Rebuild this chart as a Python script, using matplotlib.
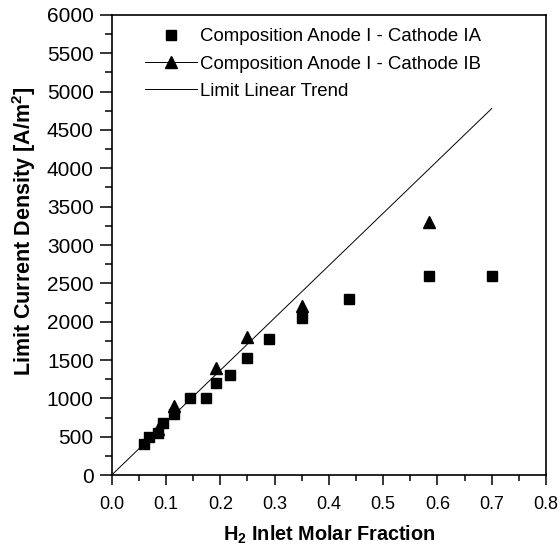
import matplotlib
matplotlib.use("Agg")
import matplotlib.pyplot as plt
from matplotlib.ticker import MultipleLocator
from matplotlib.lines import Line2D

plt.rcParams["font.family"] = ["Liberation Sans", "DejaVu Sans"]
plt.rcParams["mathtext.fontset"] = "custom"
plt.rcParams["mathtext.rm"] = "Liberation Sans"
plt.rcParams["mathtext.bf"] = "Liberation Sans:bold"

# DATA
x_ia = [0.06, 0.068, 0.085, 0.095, 0.115, 0.144, 0.173, 0.193, 0.218, 0.249, 0.289, 0.351, 0.438, 0.584, 0.70]
y_ia = [400, 500, 550, 680, 800, 1000, 1000, 1200, 1300, 1530, 1780, 2050, 2300, 2600, 2600]
x_ib = [0.085, 0.115, 0.193, 0.249, 0.351, 0.584]
y_ib = [600, 900, 1400, 1800, 2200, 3300]
x_trend = [0.0, 0.70]
y_trend = [0, 4780]
labels = ["Composition Anode I - Cathode IA", "Composition Anode I - Cathode IB", "Limit Linear Trend"]

fig = plt.figure(figsize=(5.6, 5.47), dpi=100)
ax = fig.add_axes([0.1995, 0.1316, 0.7755, 0.841])

ax.plot(x_ia, y_ia, linestyle="none", marker="s", markersize=7.2, color="black")
ax.plot(x_ib, y_ib, linestyle="none", marker="^", markersize=8, color="black")
ax.plot(x_trend, y_trend, color="black", linewidth=0.7)

ax.set_xlim(0, 0.8)
ax.set_ylim(0, 6000)
ax.xaxis.set_major_locator(MultipleLocator(0.1))
ax.xaxis.set_minor_locator(MultipleLocator(0.05))
ax.yaxis.set_major_locator(MultipleLocator(500))
ax.yaxis.set_minor_locator(MultipleLocator(250))
ax.set_xticks([0.0, 0.1, 0.2, 0.3, 0.4, 0.5, 0.6, 0.7, 0.8])
ax.set_xticklabels(["0.0", "0.1", "0.2", "0.3", "0.4", "0.5", "0.6", "0.7", "0.8"])

ax.tick_params(which="both", direction="out", width=1.1)
ax.tick_params(axis="x", which="major", length=7, labelsize=13, pad=8)
ax.tick_params(axis="x", which="minor", length=4)
ax.tick_params(axis="y", which="major", length=9, labelsize=15, pad=4)
ax.tick_params(axis="y", which="minor", length=5)
for s in ax.spines.values():
    s.set_linewidth(1.2)

ax.set_xlabel(r"H$_\mathbf{2}$ Inlet Molar Fraction", fontsize=14.3, fontweight="bold", labelpad=8)
ax.set_ylabel(r"Limit Current Density [A/m$^\mathbf{2}$]", fontsize=15.5, fontweight="bold")
ax.yaxis.set_label_coords(-0.170, 0.53)

# legend: marker-only handle for IA, line+marker for IB
h1 = Line2D([], [], linestyle="none", marker="s", markersize=7.2, color="black")
h2 = Line2D([], [], linestyle="-", linewidth=0.7, marker="^", markersize=8, color="black")
h3 = Line2D([], [], linestyle="-", linewidth=0.7, color="black")
ax.legend([h1, h2, h3], labels,
          loc="upper left", bbox_to_anchor=(0.077, 0.971), frameon=False, fontsize=13.4,
          handlelength=2.8, handletextpad=0.15, labelspacing=0.55, borderpad=0, borderaxespad=0,
          numpoints=1)

fig.savefig("out.png", dpi=100)
